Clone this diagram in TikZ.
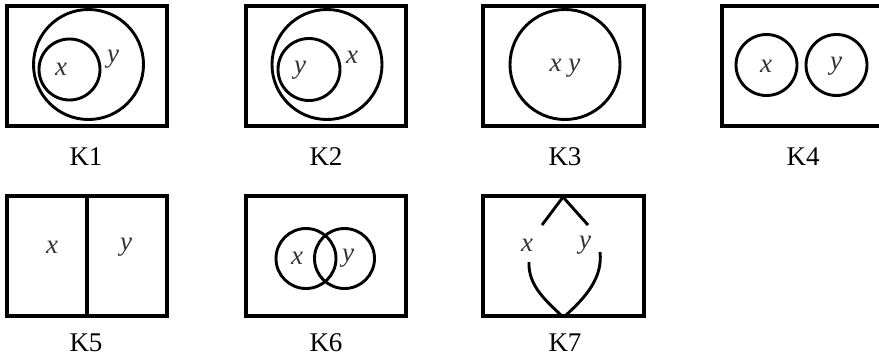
\documentclass[tikz,border=0pt]{standalone}
\usepackage{fontspec}
\setmainfont{Liberation Serif}
\usepackage{tikz}

\begin{document}
\begin{tikzpicture}[
  x=0.5pt, y=-0.5pt,
  frame/.style={draw=black, line width=1.6pt},
  ring/.style={draw=black, line width=1.45pt},
  var/.style={font=\fontsize{13.5}{15}\selectfont\itshape, text=black!80, inner sep=0pt},
  klbl/.style={font=\fontsize{13.5}{15}\selectfont, inner sep=0pt}
]
\useasboundingbox (0,0) rectangle (879,361);
% K1
\draw[frame] (7,6) rectangle (167,126);
\draw[ring] (88.5,64.5) circle[radius=55];
\draw[ring] (69.5,69.5) circle[radius=30.5];
\node[var] (k1x) at (61,69) {x};
\node[var] (k1y) at (113,59) {y};
\node[klbl] (k1) at (86,157) {K1};
% K2
\draw[frame] (246,6) rectangle (406,126);
\draw[ring] (327,64.5) circle[radius=55];
\draw[ring] (309,69.5) circle[radius=31];
\node[var] (k2y) at (300,70) {y};
\node[var] (k2x) at (352,57) {x};
\node[klbl] (k2) at (326,157) {K2};
% K3
\draw[frame] (483,6) rectangle (644,126);
\draw[ring] (565,64.5) circle[radius=55];
\node[var] (k3xy) at (565,68) {x y};
\node[klbl] (k3) at (565,157) {K3};
% K4
\draw[frame] (722,6) rectangle (884,126);
\draw[ring] (766.5,65) circle[radius=30.5];
\draw[ring] (836.5,65) circle[radius=30.5];
\node[var] (k4x) at (766,66) {x};
\node[var] (k4y) at (836,66) {y};
\node[klbl] (k4) at (803,157) {K4};
% K5
\draw[frame] (7,196) rectangle (167,316);
\draw[frame] (87,196) -- (87,316);
\node[var] (k5x) at (52,247) {x};
\node[var] (k5y) at (126,247) {y};
\node[klbl] (k5) at (86,343) {K5};
% K6
\draw[frame] (246,196) rectangle (406,316);
\draw[ring] (306,258.5) circle[radius=30];
\draw[ring] (344.5,258.5) circle[radius=30];
\node[var] (k6x) at (297,258) {x};
\node[var] (k6y) at (348,258) {y};
\node[klbl] (k6) at (326,343) {K6};
% K7
\draw[frame] (483,196) rectangle (644,316);
\draw[ring] (542,225) -- (563,197) -- (588,225);
\draw[ring] (529,262) .. controls (528,285) and (545,300) .. (562,316);
\draw[ring] (600,252) .. controls (603,278) and (585,298) .. (565,316);
\node[var] (k7x) at (527,245) {x};
\node[var] (k7y) at (585,245) {y};
\node[klbl] (k7) at (565,343) {K7};
\end{tikzpicture}
\end{document}
